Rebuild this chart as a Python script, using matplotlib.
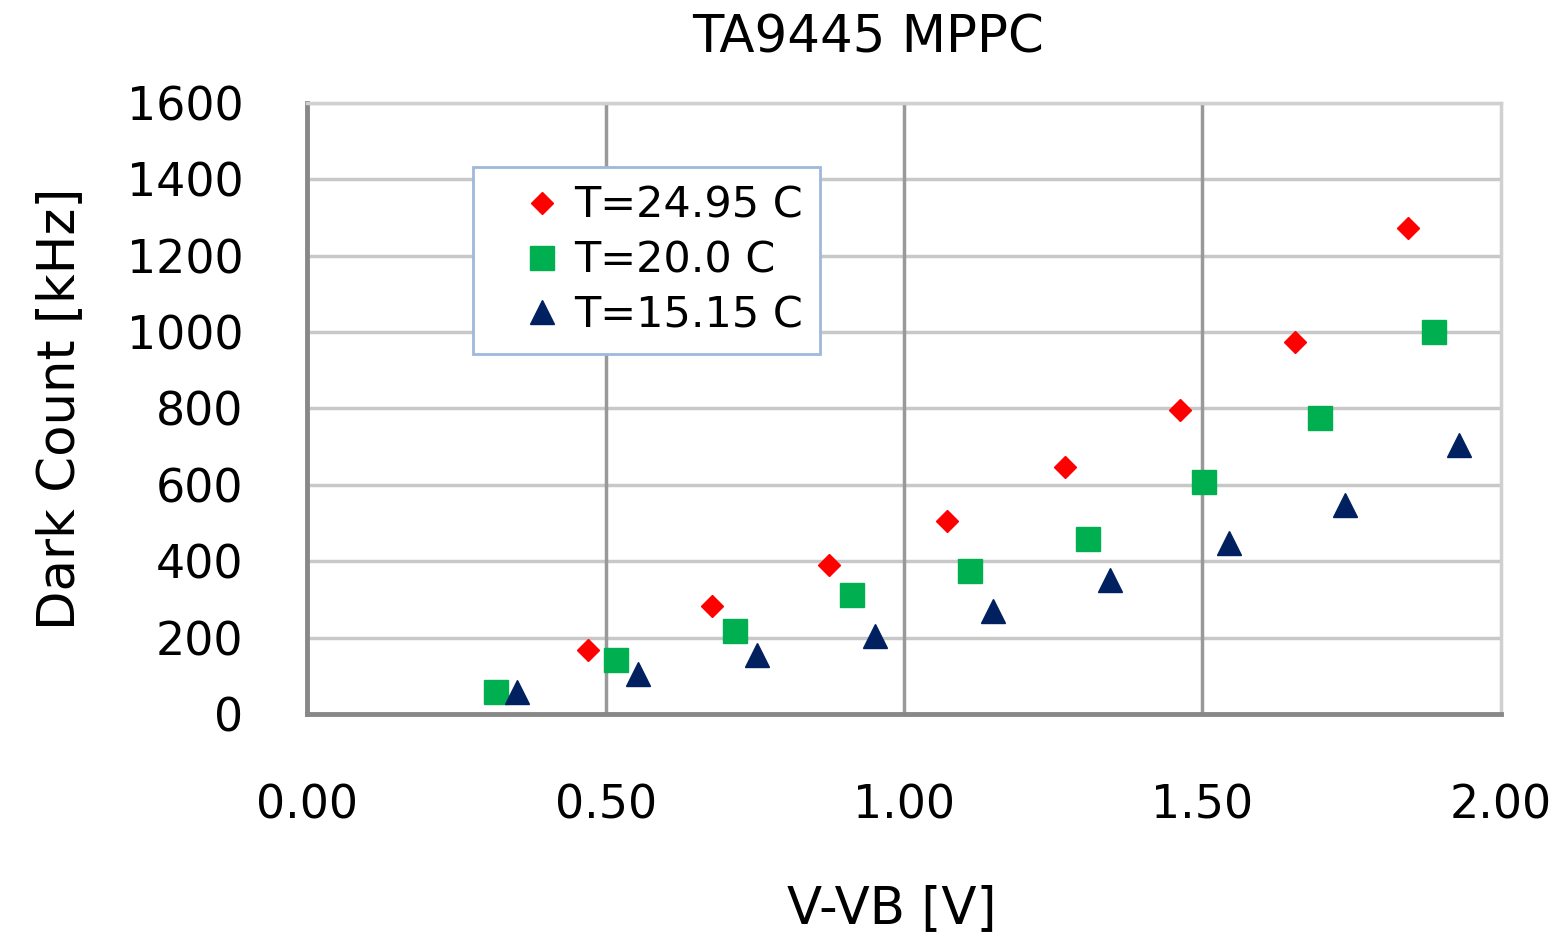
import matplotlib.pyplot as plt

# datos
x_25 = [0.47, 0.678, 0.874, 1.072, 1.27, 1.463, 1.656, 1.844]
y_25 = [168, 283, 390, 505, 647, 796, 974, 1273]

x_20 = [0.317, 0.518, 0.716, 0.913, 1.111, 1.309, 1.503, 1.698, 1.889]
y_20 = [58, 141, 217, 312, 374, 458, 607, 775, 1000]

x_15 = [0.352, 0.554, 0.753, 0.951, 1.149, 1.346, 1.544, 1.74, 1.931]
y_15 = [58, 105, 154, 204, 270, 351, 448, 547, 704]

x_ticks = [0.0, 0.5, 1.0, 1.5, 2.0]
y_ticks = [0, 200, 400, 600, 800, 1000, 1200, 1400, 1600]

fig = plt.figure(figsize=(15.68, 9.42), dpi=100)
ax = fig.add_axes([0.196, 0.242, 0.761, 0.649])

for y in y_ticks[1:]:
    ax.axhline(y, color="#c8c8c8", linewidth=2.5, zorder=0)
for x in x_ticks[1:-1]:
    ax.axvline(x, color="#999999", linewidth=2.5, zorder=0)

ax.plot(x_25, y_25, "D", color="#ff0000", markersize=11, linestyle="none", label="T=24.95 C")
ax.plot(x_20, y_20, "s", color="#00b050", markersize=17, linestyle="none", label="T=20.0 C")
ax.plot(x_15, y_15, "^", color="#002060", markersize=17, linestyle="none", label="T=15.15 C")

ax.set_xlim(0, 2.0)
ax.set_ylim(0, 1600)
ax.set_xticks(x_ticks)
ax.set_xticklabels(["%.2f" % v for v in x_ticks])
ax.set_yticks(y_ticks)
ax.tick_params(axis="both", length=0, labelsize=33)
ax.tick_params(axis="x", pad=50)
ax.tick_params(axis="y", pad=46)

ax.spines["left"].set_color("#888888")
ax.spines["bottom"].set_color("#888888")
ax.spines["left"].set_linewidth(3.5)
ax.spines["bottom"].set_linewidth(3.5)
ax.spines["top"].set_color("#d0d0d0")
ax.spines["right"].set_color("#d0d0d0")
ax.spines["top"].set_linewidth(2.5)
ax.spines["right"].set_linewidth(2.5)

ax.set_title("TA9445 MPPC", fontsize=37, pad=36, x=0.47)
ax.set_xlabel("V-VB [V]", fontsize=37, labelpad=40, x=0.49)
ax.set_ylabel("Dark Count [kHz]", fontsize=37, labelpad=30)

leg = ax.legend(loc="upper left", bbox_to_anchor=(0.139, 0.894), fontsize=31,
                fancybox=False, framealpha=1, edgecolor="#9fb8dd", borderaxespad=0,
                handlelength=2.4, handletextpad=-0.45, borderpad=0.4, labelspacing=0.3)
leg.get_frame().set_linewidth(2)

fig.savefig("out.png", dpi=100)
